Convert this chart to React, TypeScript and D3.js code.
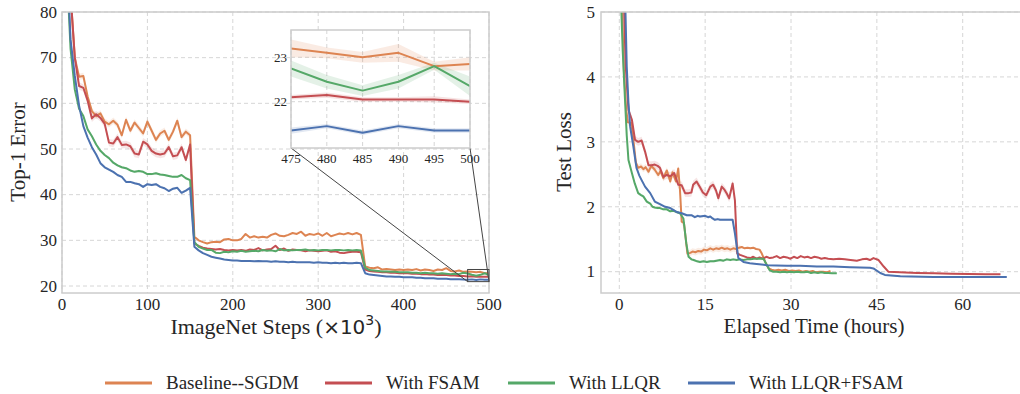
import * as d3 from 'd3'

// series: seaborn "deep" palette
const seriesNames = ['Baseline--SGDM', 'With FSAM', 'With LLQR', 'With LLQR+FSAM']
const seriesColors = ['#DD8452', '#C44E52', '#55A868', '#4C72B0']

// left panel: Top-1 error every 5k ImageNet steps (5 .. 500)
const steps = d3.range(5, 501, 5)

const errBaseline = [
  98, 84, 70, 65.8, 66.0, 61.5, 58.3, 57.2, 57.8, 56.0,
  55.4, 56.2, 55.3, 53.0, 56.4, 54.0, 55.8, 54.6, 53.4, 56.0,
  54.0, 52.0, 53.4, 54.0, 52.0, 53.8, 56.2, 52.6, 53.8, 53.0,
  30.8, 30.0, 29.6, 29.3, 29.6, 29.7, 29.6, 30.2, 30.3, 30.0,
  30.0, 30.3, 31.4, 30.6, 30.9, 30.6, 30.8, 30.6, 31.2, 31.5,
  31.0, 30.9, 31.2, 31.6, 31.4, 31.9, 31.0, 31.4, 31.2, 31.5,
  31.0, 31.6, 30.9, 31.2, 31.5, 31.3, 31.6, 31.3, 31.6, 31.2,
  24.3, 24.0, 23.9, 24.1, 23.6, 23.7, 23.6, 23.5, 23.6, 23.5,
  23.6, 23.5, 23.7, 23.4, 23.6, 23.5, 23.3, 23.6, 23.5, 23.9,
  23.3, 23.2, 23.4, 23.1, 23.2, 23.1, 23.0, 23.1, 22.8, 22.85,
]
const errFsam = [
  98, 84, 70, 63.8, 63.4, 60.6, 56.7, 57.6, 56.8, 55.5,
  51.4, 51.2, 52.6, 50.9, 51.0, 50.6, 49.0, 48.8, 51.6, 51.0,
  49.6, 49.0, 48.8, 49.0, 50.4, 48.4, 48.6, 50.4, 47.6, 51.0,
  29.3, 28.8, 28.4, 28.2, 28.1, 28.0, 28.1, 27.9, 27.8, 27.9,
  27.8, 27.9, 27.7, 28.0, 27.9, 28.3, 27.8, 28.0, 28.1, 28.8,
  27.9, 28.2, 27.7, 28.0, 27.9, 27.8, 27.6, 27.8, 27.7, 27.6,
  27.7, 27.8, 27.5, 27.6, 27.3, 27.2, 27.4, 27.5, 27.5, 27.4,
  23.6, 23.3, 23.2, 23.1, 23.0, 23.0, 22.9, 22.9, 22.8, 22.8,
  22.8, 22.7, 22.7, 22.6, 22.6, 22.5, 22.5, 22.4, 22.4, 22.4,
  22.3, 22.3, 22.2, 22.2, 22.1, 22.15, 22.05, 22.05, 22.05, 22.0,
]
const errLlqr = [
  92, 72, 63, 58.8, 57.2, 54.3, 52.8, 51.0, 49.6, 48.7,
  48.0, 47.0, 46.4, 46.0, 45.8, 45.3, 45.0, 45.2, 45.0, 44.5,
  44.5, 44.7, 44.4, 44.3, 44.1, 43.9, 43.9, 44.3, 43.6, 43.2,
  29.6, 28.6, 28.2, 27.9, 27.9, 27.3, 27.2, 27.5, 27.4, 27.6,
  27.5, 27.7, 27.5, 27.6, 27.7, 27.6, 27.9, 27.7, 27.8, 27.6,
  28.1, 27.8, 27.9, 27.8, 27.9, 27.9, 28.0, 27.8, 27.9, 27.8,
  27.9, 27.9, 27.8, 27.9, 27.9, 27.8, 27.9, 27.8, 27.9, 27.8,
  24.0, 23.5, 23.4, 23.3, 23.2, 23.2, 23.1, 23.1, 23.0, 23.0,
  23.0, 22.9, 22.9, 22.8, 22.9, 22.8, 22.8, 22.7, 22.8, 22.7,
  22.6, 22.7, 22.6, 22.9, 22.75, 22.45, 22.25, 22.45, 22.8, 22.35,
]
const errLlqrFsam = [
  96, 74, 66, 59.5, 55.0, 52.5, 50.4, 48.8, 46.9, 46.0,
  45.5, 45.0, 44.3, 43.9, 42.8, 42.8, 42.5, 42.3, 41.7, 42.3,
  42.1, 42.3, 41.7, 41.4, 40.8, 41.3, 41.5, 40.4, 40.9, 41.5,
  28.6, 27.8, 27.2, 26.8, 26.4, 26.2, 26.0, 25.8, 25.7, 25.6,
  25.6, 25.5, 25.5, 25.5, 25.4, 25.5, 25.4, 25.4, 25.3, 25.4,
  25.3, 25.3, 25.2, 25.3, 25.2, 25.2, 25.2, 25.2, 25.1, 25.2,
  25.1, 25.1, 25.0, 25.1, 25.0, 25.1, 25.0, 25.0, 25.1, 25.0,
  22.8, 22.5, 22.4, 22.3, 22.2, 22.1, 22.1, 22.0, 22.0, 21.9,
  21.9, 21.9, 21.8, 21.8, 21.7, 21.7, 21.7, 21.6, 21.6, 21.6,
  21.5, 21.5, 21.5, 21.4, 21.35, 21.45, 21.3, 21.45, 21.35, 21.35,
]
const errSeries = [errBaseline, errFsam, errLlqr, errLlqrFsam]
// rough std (half band) before / after the first lr drop
const errBandEarly = [0.7, 0.8, 0.25, 0.25]
const errBandLate = [0.12, 0.12, 0.1, 0.08]

// inset: last six evaluations, with their std
const insetSteps = [475, 480, 485, 490, 495, 500]
const insetBand = [
  [0.2, 0.12, 0.12, 0.2, 0.1, 0.15],
  [0.05, 0.06, 0.05, 0.05, 0.07, 0.05],
  [0.18, 0.15, 0.12, 0.15, 0.08, 0.22],
  [0.07, 0.05, 0.05, 0.05, 0.05, 0.05],
]

// right panel: test loss vs elapsed hours
const lossBaseline: [number, number][] = [
  [0.3, 5.6], [0.8, 4.1], [1.2, 3.5], [1.5, 3.3], [2.1, 3.29], [2.5, 3.0], [2.9, 2.68], [3.3, 2.6],
  [3.8, 2.62], [4.2, 2.58], [4.6, 2.61], [5.1, 2.54], [5.6, 2.63], [6.2, 2.57], [6.8, 2.49], [7.2, 2.55],
  [7.7, 2.44], [8.3, 2.56], [8.9, 2.39], [9.3, 2.53], [9.9, 2.39], [10.3, 2.59], [10.6, 2.26], [10.9, 1.77],
  [11.3, 1.75], [11.9, 1.28], [12.4, 1.29], [12.8, 1.31], [13.3, 1.3], [13.8, 1.32], [14.3, 1.31], [14.8, 1.34],
  [15.3, 1.33], [15.9, 1.36], [16.4, 1.34], [16.9, 1.36], [17.4, 1.35], [17.9, 1.37], [18.4, 1.35], [18.9, 1.36],
  [19.4, 1.34], [19.9, 1.36], [20.4, 1.35], [20.9, 1.37], [21.4, 1.38], [21.9, 1.36], [22.4, 1.37], [22.9, 1.36],
  [23.4, 1.37], [23.9, 1.35], [24.5, 1.34], [24.9, 1.28], [25.5, 1.15], [26.1, 1.05], [26.6, 1.03], [27.2, 1.02],
  [27.8, 1.03], [28.4, 1.02], [29.0, 1.03], [29.6, 1.01], [30.2, 1.02], [30.8, 1.01], [31.4, 1.02], [32.0, 1.0],
  [32.6, 1.01], [33.2, 1.0], [33.8, 1.01], [34.4, 0.99], [35.0, 1.0], [35.6, 1.0], [36.2, 0.99], [36.9, 1.01],
]
const lossFsam: [number, number][] = [
  [0.7, 5.5], [1.1, 4.2], [1.6, 3.49], [2.2, 3.34], [2.75, 3.03], [3.3, 3.0], [3.9, 3.02], [4.5, 2.85],
  [5.1, 2.64], [5.65, 2.64], [6.2, 2.65], [6.7, 2.63], [7.1, 2.6], [7.7, 2.46], [8.3, 2.49], [8.9, 2.47],
  [9.6, 2.52], [10.3, 2.34], [10.9, 2.33], [11.5, 2.21], [12.1, 2.21], [12.6, 2.22], [12.9, 2.34], [13.5, 2.39],
  [14.1, 2.3], [14.6, 2.22], [15.2, 2.18], [15.9, 2.31], [16.4, 2.34], [16.9, 2.25], [17.3, 2.13], [17.9, 2.31],
  [18.4, 2.26], [18.8, 2.2], [19.2, 2.13], [19.8, 2.36], [20.2, 2.1], [20.6, 1.28], [21.1, 1.26], [21.7, 1.24],
  [22.3, 1.22], [22.9, 1.21], [23.4, 1.23], [24.0, 1.2], [24.5, 1.22], [25.1, 1.2], [25.7, 1.23], [26.3, 1.21],
  [26.9, 1.22], [27.5, 1.24], [28.1, 1.21], [28.7, 1.23], [29.3, 1.22], [29.9, 1.2], [30.5, 1.23], [31.1, 1.21],
  [31.7, 1.24], [32.3, 1.22], [32.9, 1.23], [33.5, 1.21], [34.1, 1.23], [34.7, 1.22], [35.3, 1.2], [35.9, 1.21],
  [36.5, 1.2], [37.4, 1.19], [38.4, 1.2], [39.4, 1.19], [40.4, 1.18], [41.5, 1.17], [42.4, 1.19], [43.2, 1.2],
  [43.8, 1.18], [44.4, 1.21], [45.3, 1.18], [46.2, 1.08], [47.0, 1.0], [49.0, 0.99], [52.0, 0.98], [55.0, 0.975],
  [58.0, 0.97], [61.0, 0.965], [64.0, 0.96], [66.6, 0.96],
]
const lossLlqr: [number, number][] = [
  [0.25, 5.3], [0.6, 4.4], [1.0, 3.64], [1.3, 3.1], [1.6, 2.72], [2.2, 2.52], [2.7, 2.36], [3.3, 2.21],
  [3.8, 2.18], [4.2, 2.16], [4.8, 2.08], [5.4, 2.05], [5.8, 2.0], [6.2, 1.99], [6.7, 1.98], [7.1, 1.98],
  [7.7, 1.96], [8.3, 1.96], [8.9, 1.93], [9.4, 1.94], [10.0, 1.92], [10.6, 1.9], [11.2, 1.82], [11.7, 1.44],
  [12.1, 1.23], [12.6, 1.19], [13.0, 1.18], [13.6, 1.16], [14.1, 1.15], [14.7, 1.16], [15.3, 1.15], [15.9, 1.16],
  [16.5, 1.16], [17.0, 1.17], [17.6, 1.18], [18.2, 1.17], [18.8, 1.19], [19.4, 1.18], [19.9, 1.19], [20.5, 1.18],
  [21.1, 1.19], [21.7, 1.18], [22.3, 1.19], [22.9, 1.19], [23.5, 1.2], [24.0, 1.2], [24.6, 1.2], [25.2, 1.2],
  [25.8, 1.1], [26.3, 1.02], [26.9, 1.0], [27.5, 1.0], [28.1, 0.99], [28.7, 1.0], [29.3, 0.99], [29.9, 1.0],
  [30.5, 0.99], [31.1, 1.0], [31.7, 0.99], [32.3, 0.99], [32.9, 1.0], [33.5, 0.98], [34.1, 0.99], [34.7, 0.98],
  [35.3, 0.99], [35.9, 0.98], [36.5, 0.98], [37.2, 0.975], [38.0, 0.975],
]
const lossLlqrFsam: [number, number][] = [
  [1.0, 5.3], [1.3, 4.16], [1.6, 3.6], [1.9, 3.23], [2.45, 2.93], [3.0, 2.6], [3.5, 2.48], [3.9, 2.41],
  [4.5, 2.31], [5.4, 2.21], [6.2, 2.08], [7.1, 2.04], [8.0, 2.0], [8.9, 1.98], [9.5, 1.95], [10.0, 1.92],
  [10.9, 1.9], [11.8, 1.87], [12.6, 1.87], [13.2, 1.84], [13.7, 1.86], [14.1, 1.85], [15.0, 1.86], [15.5, 1.84],
  [15.9, 1.85], [16.3, 1.82], [16.7, 1.8], [17.2, 1.81], [17.6, 1.8], [18.2, 1.8], [18.8, 1.8], [19.3, 1.8],
  [19.8, 1.8], [20.2, 1.59], [20.8, 1.21], [21.7, 1.15], [22.8, 1.13], [24.0, 1.12], [25.8, 1.1], [27.5, 1.095],
  [29.3, 1.09], [31.6, 1.09], [34.5, 1.08], [37.4, 1.08], [40.3, 1.07], [43.8, 1.06], [44.4, 1.05], [45.6, 0.98],
  [46.4, 0.95], [49.1, 0.93], [54.9, 0.92], [60.7, 0.92], [67.7, 0.92],
]
const lossSeries = [lossBaseline, lossFsam, lossLlqr, lossLlqrFsam]
const lossBandEarly = [0.05, 0.06, 0.02, 0.02]

const leftXTicks = [0, 100, 200, 300, 400, 500]
const leftYTicks = [20, 30, 40, 50, 60, 70, 80]
const insetYTicks = [22, 23]
const rightXTicks = [0, 15, 30, 45, 60]
const rightYTicks = [1, 2, 3, 4, 5]

const SERIF = '"Liberation Serif", "Times New Roman", serif'
const GRID = '#d6d6d6'
const SPINE = '#cccccc'
const TXT = '#262626'

type Pt = { x: number; y: number; s: number }

function Band({ pts, x, y, color, opacity = 0.15 }: { pts: Pt[]; x: any; y: any; color: string; opacity?: number }) {
  const area = d3.area<Pt>().x((d) => x(d.x)).y0((d) => y(d.y - d.s)).y1((d) => y(d.y + d.s))
  return <path d={area(pts) || ''} fill={color} opacity={opacity} stroke="none" />
}

function Line({ pts, x, y, color, w = 2 }: { pts: Pt[]; x: any; y: any; color: string; w?: number }) {
  const line = d3.line<Pt>().x((d) => x(d.x)).y((d) => y(d.y))
  return <path d={line(pts) || ''} fill="none" stroke={color} strokeWidth={w} strokeLinejoin="round" />
}

export default function App() {
  // left panel
  const L = { left: 62, right: 489, top: 12, bottom: 293 }
  const lx = d3.scaleLinear().domain([0, 500]).range([L.left, L.right])
  const ly = d3.scaleLinear().domain([20, 80]).range([286, 12])

  // inset
  const I = { left: 291, right: 470, top: 30, bottom: 148 }
  const ix = d3.scaleLinear().domain([475, 500]).range([I.left, I.right])
  const iy = d3.scaleLinear().domain([22, 23]).range([101.7, 57.3])
  const iyLo = iy.invert(I.bottom)
  const iyHi = iy.invert(I.top)

  // right panel (its right spine falls outside the picture)
  const R = { left: 601, right: 1026, top: 12, bottom: 293 }
  const rx = d3.scaleLinear().domain([0, 60]).range([619.3, 962.7])
  const ry = d3.scaleLinear().domain([1, 5]).range([271.7, 12])

  const leftPts = errSeries.map((vals, k) =>
    steps.map((s, i) => ({ x: s, y: vals[i], s: s <= 150 ? errBandEarly[k] : errBandLate[k] })),
  )
  const insetPts = errSeries.map((vals, k) =>
    insetSteps.map((s, i) => ({ x: s, y: vals[steps.indexOf(s)], s: insetBand[k][i] })),
  )
  const rightPts = lossSeries.map((arr, k) =>
    arr.map(([h, v]) => ({ x: h, y: v, s: h < 21 ? lossBandEarly[k] : 0.01 })),
  )

  const legendX = [105, 325, 508, 688]

  return (
    <svg width={1020} height={394} style={{ position: 'absolute', left: 0, top: 0, background: '#fff' }} fontFamily={SERIF}>
      <defs>
        <clipPath id="clipL"><rect x={L.left} y={L.top} width={L.right - L.left} height={L.bottom - L.top} /></clipPath>
        <clipPath id="clipI"><rect x={I.left} y={I.top} width={I.right - I.left} height={I.bottom - I.top} /></clipPath>
        <clipPath id="clipR"><rect x={R.left} y={R.top} width={R.right - R.left} height={R.bottom - R.top} /></clipPath>
      </defs>
      <rect width={1020} height={394} fill="#fff" />

      {/* ---------- left panel ---------- */}
      <g>
        {leftXTicks.map((t) => (
          <line key={'lgx' + t} x1={lx(t)} x2={lx(t)} y1={L.top} y2={L.bottom} stroke={GRID} strokeDasharray="4,3" />
        ))}
        {leftYTicks.map((t) => (
          <line key={'lgy' + t} x1={L.left} x2={L.right} y1={ly(t)} y2={ly(t)} stroke={GRID} strokeDasharray="4,3" />
        ))}
        <g clipPath="url(#clipL)">
          {leftPts.map((p, k) => <Band key={'lb' + k} pts={p} x={lx} y={ly} color={seriesColors[k]} />)}
          {leftPts.map((p, k) => <Line key={'ll' + k} pts={p} x={lx} y={ly} color={seriesColors[k]} />)}
        </g>
        <rect x={L.left} y={L.top} width={L.right - L.left} height={L.bottom - L.top} fill="none" stroke={SPINE} strokeWidth={1.5} />
        {leftXTicks.map((t) => (
          <text key={'ltx' + t} x={lx(t)} y={310} textAnchor="middle" fontSize={17} fill={TXT}>{t}</text>
        ))}
        {leftYTicks.map((t) => (
          <text key={'lty' + t} x={57} y={ly(t)} dy="0.34em" textAnchor="end" fontSize={17} fill={TXT}>{t}</text>
        ))}
        <text x={276} y={334} textAnchor="middle" fontSize={22} fill={TXT}>
          ImageNet Steps (<tspan fontFamily='"DejaVu Sans", sans-serif' fontSize={20}>×10</tspan>
          <tspan fontFamily='"DejaVu Sans", sans-serif' fontSize={14} dy={-9}>3</tspan>
          <tspan dy={9}>)</tspan>
        </text>
        <text transform="translate(25,152) rotate(-90)" textAnchor="middle" fontSize={21} fill={TXT}>Top-1 Error</text>

        {/* zoom indicator */}
        <rect x={lx(475)} y={ly(iyHi)} width={lx(500) - lx(475)} height={ly(iyLo) - ly(iyHi)} fill="none" stroke="#444" strokeWidth={1} />
        <line x1={I.left} y1={I.bottom} x2={lx(475)} y2={ly(iyLo)} stroke="#444" strokeWidth={1} />
        <line x1={I.right} y1={I.bottom} x2={lx(500)} y2={ly(iyLo)} stroke="#444" strokeWidth={1} />

        {/* inset */}
        <rect x={I.left} y={I.top} width={I.right - I.left} height={I.bottom - I.top} fill="#fff" />
        {insetSteps.map((t) => (
          <line key={'igx' + t} x1={ix(t)} x2={ix(t)} y1={I.top} y2={I.bottom} stroke={GRID} strokeDasharray="4,3" />
        ))}
        {insetYTicks.map((t) => (
          <line key={'igy' + t} x1={I.left} x2={I.right} y1={iy(t)} y2={iy(t)} stroke={GRID} strokeDasharray="4,3" />
        ))}
        <g clipPath="url(#clipI)">
          {insetPts.map((p, k) => <Band key={'ib' + k} pts={p} x={ix} y={iy} color={seriesColors[k]} opacity={0.16} />)}
          {insetPts.map((p, k) => <Line key={'il' + k} pts={p} x={ix} y={iy} color={seriesColors[k]} />)}
        </g>
        <rect x={I.left} y={I.top} width={I.right - I.left} height={I.bottom - I.top} fill="none" stroke={SPINE} strokeWidth={1.5} />
        {insetSteps.map((t) => (
          <text key={'itx' + t} x={ix(t)} y={163} textAnchor="middle" fontSize={13} fill={TXT}>{t}</text>
        ))}
        {insetYTicks.map((t) => (
          <text key={'ity' + t} x={287} y={iy(t)} dy="0.34em" textAnchor="end" fontSize={13} fill={TXT}>{t}</text>
        ))}
      </g>

      {/* ---------- right panel ---------- */}
      <g>
        {rightXTicks.map((t) => (
          <line key={'rgx' + t} x1={rx(t)} x2={rx(t)} y1={R.top} y2={R.bottom} stroke={GRID} strokeDasharray="4,3" />
        ))}
        {rightYTicks.map((t) => (
          <line key={'rgy' + t} x1={R.left} x2={R.right} y1={ry(t)} y2={ry(t)} stroke={GRID} strokeDasharray="4,3" />
        ))}
        <g clipPath="url(#clipR)">
          {rightPts.map((p, k) => <Band key={'rb' + k} pts={p} x={rx} y={ry} color={seriesColors[k]} />)}
          {rightPts.map((p, k) => <Line key={'rl' + k} pts={p} x={rx} y={ry} color={seriesColors[k]} />)}
        </g>
        <rect x={R.left} y={R.top} width={R.right - R.left} height={R.bottom - R.top} fill="none" stroke={SPINE} strokeWidth={1.5} />
        {rightXTicks.map((t) => (
          <text key={'rtx' + t} x={rx(t)} y={310} textAnchor="middle" fontSize={17} fill={TXT}>{t}</text>
        ))}
        {rightYTicks.map((t) => (
          <text key={'rty' + t} x={595} y={ry(t)} dy="0.34em" textAnchor="end" fontSize={17} fill={TXT}>{t}</text>
        ))}
        <text x={814} y={333} textAnchor="middle" fontSize={21} fill={TXT}>Elapsed Time (hours)</text>
        <text transform="translate(571,152) rotate(-90)" textAnchor="middle" fontSize={21} fill={TXT}>Test Loss</text>
      </g>

      {/* ---------- legend ---------- */}
      {seriesNames.map((n, k) => (
        <g key={'lg' + k} transform={`translate(${legendX[k]},383)`}>
          <line x1={0} x2={47} y1={0} y2={0} stroke={seriesColors[k]} strokeWidth={3} />
          <text x={61} y={0} dy="0.34em" fontSize={19} fill={TXT}>{n}</text>
        </g>
      ))}
    </svg>
  )
}
